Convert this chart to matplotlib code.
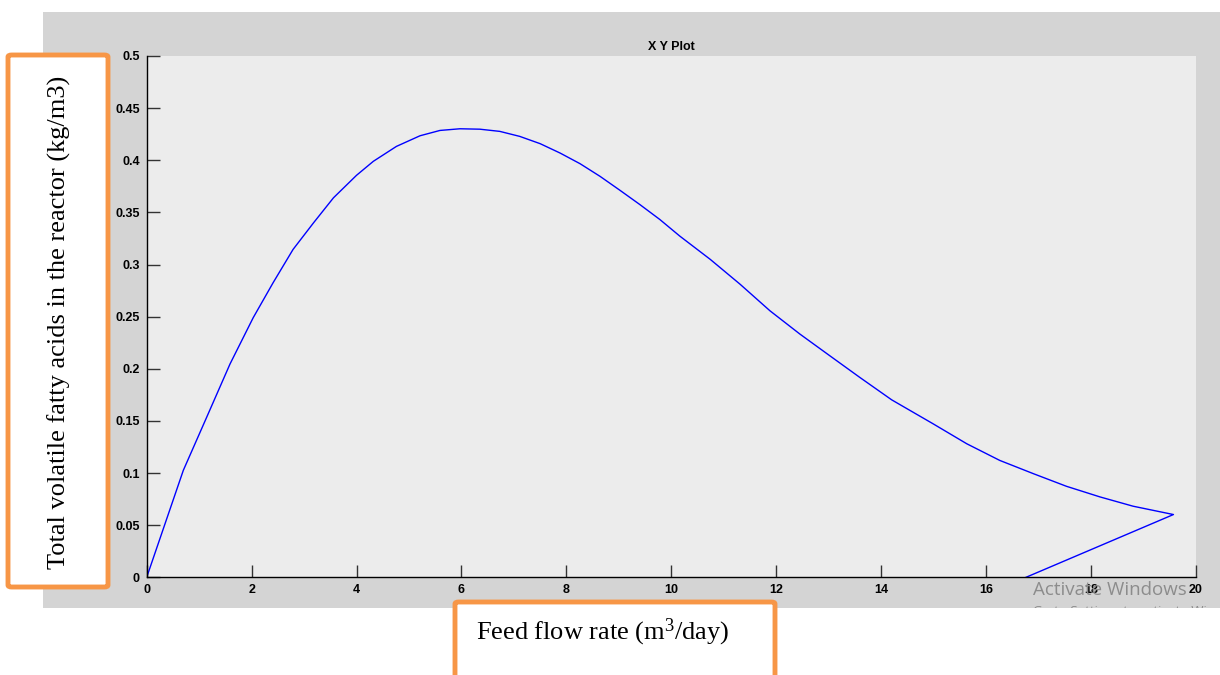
import matplotlib
matplotlib.use("Agg")
import matplotlib.pyplot as plt
from matplotlib.patches import Rectangle, FancyBboxPatch

plt.rcParams['mathtext.fontset'] = 'custom'
plt.rcParams['mathtext.rm'] = 'Liberation Serif'
plt.rcParams['mathtext.it'] = 'Liberation Serif:italic'

# values
flow = [0, 0.698, 1.143, 1.588, 2.03, 2.41, 2.79, 3.18, 3.56, 4.0, 4.32, 4.76,
        5.21, 5.59, 5.97, 6.35, 6.73, 7.11, 7.50, 7.88, 8.26, 8.64, 9.02, 9.40,
        9.78, 10.16, 10.74, 11.31, 11.88, 12.45, 13.02, 13.59, 14.20, 14.99,
        15.63, 16.26, 16.90, 17.53, 18.17, 18.80, 19.57, 16.76]
vfa = [0, 0.1026, 0.1535, 0.2046, 0.249, 0.2826, 0.3145, 0.340, 0.364, 0.3856,
       0.399, 0.4133, 0.4235, 0.4286, 0.4302, 0.4298, 0.4277, 0.4229, 0.4159,
       0.4069, 0.3967, 0.3846, 0.3712, 0.3575, 0.3432, 0.3273, 0.305, 0.2811,
       0.2556, 0.2333, 0.2125, 0.1918, 0.1702, 0.1472, 0.1281, 0.1121, 0.0994,
       0.0873, 0.0771, 0.0682, 0.0602, 0]
x_ticks = [0, 2, 4, 6, 8, 10, 12, 14, 16, 18, 20]
y_ticks = [0, 0.05, 0.1, 0.15, 0.2, 0.25, 0.3, 0.35, 0.4, 0.45, 0.5]
y_labels = ['0', '0.05', '0.1', '0.15', '0.2', '0.25', '0.3', '0.35', '0.4', '0.45', '0.5']

W, H = 1220, 675
fig = plt.figure(figsize=(W / 100, H / 100), dpi=100)
fig.patch.set_facecolor('white')


def px(x, y):
    return x / W, 1 - y / H


# grey window panel (behind the axes)
x0, y0 = px(43, 608)
panel = Rectangle((x0, y0), 1 - x0, (608 - 12) / H, transform=fig.transFigure,
                  facecolor='#d4d4d4', edgecolor='none', zorder=-5)
fig.patches.append(panel)

l, b = px(146.7, 577.3)
ax = fig.add_axes([l, b, (1196 - 146.7) / W, (577.3 - 56) / H])
ax.set_facecolor('#ececec')
ax.plot(flow, vfa, color='#0000ff', lw=1.0)
ax.set_xlim(0, 20)
ax.set_ylim(0, 0.5)
ax.set_xticks(x_ticks)
ax.set_xticklabels([str(t) for t in x_ticks])
ax.set_yticks(y_ticks)
ax.set_yticklabels(y_labels)
for s in ['top', 'right']:
    ax.spines[s].set_visible(False)
for s in ['left', 'bottom']:
    ax.spines[s].set_linewidth(1.0)
ax.tick_params(direction='in', length=9, width=1, color='#333333', pad=5)
for lab in ax.get_xticklabels() + ax.get_yticklabels():
    lab.set_fontfamily('Liberation Sans')
    lab.set_fontweight('bold')
    lab.set_fontsize(9)
ax.set_title('X Y Plot', fontsize=9, fontweight='bold', family='Liberation Sans', pad=4)

# watermark
fig.text(1033 / W, 1 - 590 / H, 'Activate Windows', fontsize=13.5, color='#8c8c8c',
         family='Open Sans', va='center', ha='left', zorder=5)
fig.text(1033 / W, 1 - 611 / H, 'Go to Settings to activate Windows.', fontsize=9.5,
         color='#8c8c8c', family='Open Sans', va='center', ha='left', zorder=5,
         clip_path=panel)

# orange label boxes
orange = '#f79646'
bx, by = px(8, 587)
box1 = FancyBboxPatch((bx, by), 100 / W, (587 - 55) / H, transform=fig.transFigure,
                      boxstyle='round,pad=0,rounding_size=0.003', facecolor='white',
                      edgecolor=orange, lw=3.5, zorder=3)
fig.patches.append(box1)
fig.text(59 / W, 1 - 322 / H, 'Total volatile fatty acids in the reactor (kg/m3)',
         rotation=90, ha='center', va='center', fontsize=19, family='Liberation Serif',
         zorder=4)

bx2, by2 = px(455, 690)
box2 = FancyBboxPatch((bx2, by2), (775 - 455) / W, (690 - 602) / H, transform=fig.transFigure,
                      boxstyle='round,pad=0,rounding_size=0.003', facecolor='white',
                      edgecolor=orange, lw=3.5, zorder=3)
fig.patches.append(box2)
fig.text(476 / W, 1 - 632 / H, 'Feed flow rate (m$^3$/day)', ha='left', va='center',
         fontsize=19, family='Liberation Serif', zorder=4)

fig.savefig('out.png', dpi=100)
